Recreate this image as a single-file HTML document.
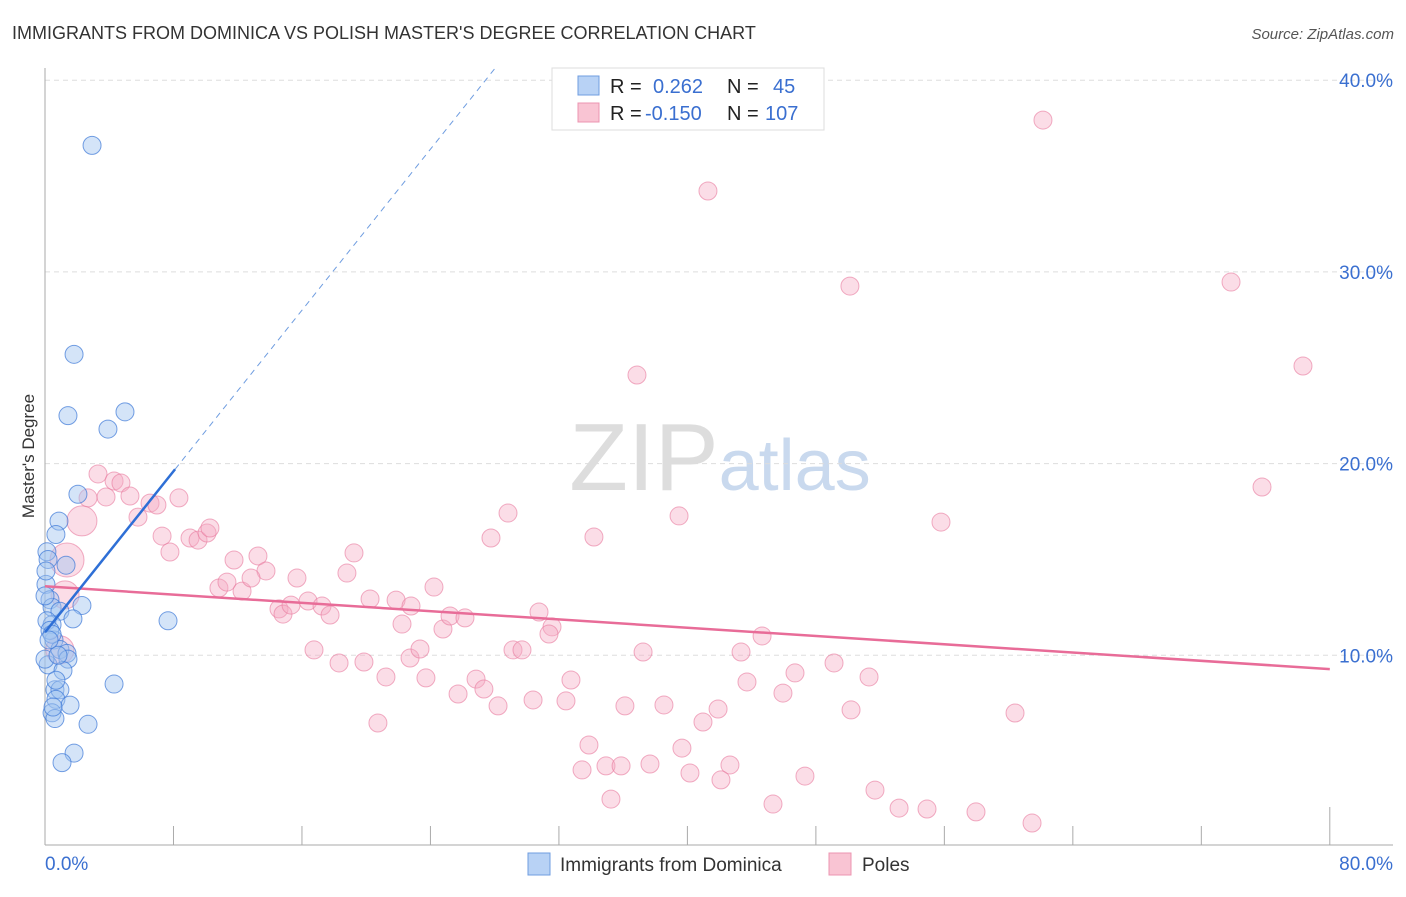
<!DOCTYPE html>
<html><head><meta charset="utf-8"><style>
body{margin:0;background:#fff;font-family:"Liberation Sans",sans-serif}
svg text{font-family:"Liberation Sans",sans-serif}
</style></head><body>
<svg id="chart" width="1406" height="892" xmlns="http://www.w3.org/2000/svg">
<text x="12" y="39" font-size="18" fill="#333">IMMIGRANTS FROM DOMINICA VS POLISH MASTER'S DEGREE CORRELATION CHART</text>
<text x="1394" y="39" font-size="15" fill="#555" text-anchor="end" font-style="italic">Source: ZipAtlas.com</text>
<text x="720" y="490" font-size="96" text-anchor="middle" fill="#ddd" font-family="Liberation Serif,serif">ZIP<tspan fill="#c9d9ee" font-family="Liberation Sans,sans-serif" font-size="72">atlas</tspan></text>
<text transform="translate(34,456) rotate(-90)" font-size="17" fill="#333" text-anchor="middle">Master's Degree</text>
<g id="grid"></g><g id="axes"></g><g id="pinkpts"></g><g id="bluepts"></g><g id="lines"></g>
<g>
<rect x="552" y="68" width="272" height="62" fill="#fff" stroke="#ddd"/>
<rect x="578" y="76" width="21" height="19" fill="#b8d2f5" stroke="#6f9de0"/>
<rect x="578" y="103" width="21" height="19" fill="#f9c4d3" stroke="#ec94b0"/>
<text x="610" y="93" font-size="20" fill="#222">R = <tspan fill="#3a6fd0" x="653">0.262</tspan><tspan x="727" fill="#222">N = </tspan><tspan x="773" fill="#3a6fd0">45</tspan></text>
<text x="610" y="120" font-size="20" fill="#222">R = <tspan fill="#3a6fd0" x="645">-0.150</tspan><tspan x="727" fill="#222">N = </tspan><tspan x="765" fill="#3a6fd0">107</tspan></text>
</g>
<g><rect x="528" y="853" width="22" height="22" fill="#b8d2f5" stroke="#6f9de0"/><text x="560" y="871" font-size="19" fill="#333">Immigrants from Dominica</text></g>
<g><rect x="829" y="853" width="22" height="22" fill="#f9c4d3" stroke="#ec94b0"/><text x="862" y="871" font-size="19" fill="#333">Poles</text></g>
</svg>
<script>
const yTicks=[10,20,30,40];
const xTickLabels=["0.0%","80.0%"];
const blueX=[2.93,1.81,1.43,4.98,3.92,2.05,0.87,0.68,0.12,0.19,1.31,0.06,0.31,0.44,2.30,0.93,1.74,7.66,0.44,0.56,0.93,1.37,1.43,0.19,1.12,4.30,0.62,0.93,0.68,1.56,0.44,0.62,2.68,1.81,1.06,0.0,0.12,0.31,0.44,0.06,0.0,0.81,0.25,0.68,0.5];
const blueY=[36.6,25.7,22.5,22.7,21.8,18.4,17.0,16.3,15.4,15.0,14.7,13.7,12.9,12.5,12.6,12.3,11.9,11.8,11.6,10.8,10.3,10.1,9.8,9.5,9.2,8.5,8.2,8.2,7.7,7.4,7.0,6.7,6.4,4.9,4.4,9.8,11.8,11.3,11.1,14.4,13.1,10.0,10.8,8.7,7.3];
const pinkPx=[[1043,120],[708,191],[850,286],[1231,282],[1303,366],[637,375],[1262,487],[98,474],[114,481],[121,483],[130,496],[106,497],[88,498],[150,503],[157,505],[179,498],[138,517],[82,521],[162,536],[190,538],[198,540],[207,533],[210,528],[170,552],[67,560],[234,560],[258,556],[354,553],[266,571],[508,513],[679,516],[491,538],[594,537],[941,522],[65,595],[219,588],[227,582],[242,591],[251,578],[297,578],[347,573],[434,587],[279,609],[283,614],[291,605],[308,601],[322,606],[330,615],[370,599],[396,600],[411,606],[402,624],[443,629],[450,616],[465,618],[539,612],[552,627],[549,634],[762,636],[60,650],[314,650],[339,663],[364,662],[386,677],[410,658],[420,649],[426,678],[476,679],[484,689],[458,694],[498,706],[513,650],[522,650],[533,700],[566,701],[571,680],[643,652],[741,652],[834,663],[795,673],[869,677],[747,682],[783,693],[625,706],[664,705],[718,709],[703,722],[851,710],[1015,713],[378,723],[589,745],[682,748],[582,770],[606,766],[621,766],[650,764],[730,765],[690,773],[721,780],[805,776],[875,790],[611,799],[773,804],[899,808],[927,809],[976,812],[1032,823]];
const pinkX=pinkPx.map(p=>+((p[0]-45)/16.06).toFixed(2));
const pinkY=pinkPx.map(p=>+((847-p[1])/19.17).toFixed(2));
const pinkBig=[17,24,34,59];
const pinkBigR=[15,17,14,14];
const blueTrend=[11.2,1.05];
const pinkTrend=[13.6,-0.054];
const NS="http://www.w3.org/2000/svg";
function sx(v){return 45+v*16.06;}
function sy(v){return 847-v*19.17;}
function mk(tag,attrs,parent){const e=document.createElementNS(NS,tag);for(const k in attrs)e.setAttribute(k,attrs[k]);document.getElementById(parent).appendChild(e);return e;}
yTicks.forEach(t=>{
 const g=mk('line',{x1:45,x2:1393,y1:sy(t),y2:sy(t),stroke:'#ddd','stroke-dasharray':'5,4'},'grid');
 
 
 const l=mk('text',{x:1393,y:sy(t)+7,'font-size':19,fill:'#3a6fd0','text-anchor':'end'},'grid');
 l.textContent=t.toFixed(1)+'%';
 
 
});
const ax=mk('line',{x1:45,x2:45,y1:68,y2:845,stroke:'#aaa'},'axes');


const bx=mk('line',{x1:45,x2:1393,y1:845,y2:845,stroke:'#aaa'},'axes');


for(let i=1;i<=10;i++){const v=i*8;const t=mk('line',{x1:sx(v),x2:sx(v),y1:i==10?807:826,y2:845,stroke:'#aaa'},'axes');
 
 }
[[0,45,'start'],[80,1393,'end']].forEach((a,i)=>{const t=mk('text',{x:a[1],y:870,'font-size':19,fill:'#3a6fd0','text-anchor':a[2]},'axes');t.textContent=xTickLabels[i];
 
 });
pinkX.forEach((x,i)=>{const bi=pinkBig.indexOf(i);const c=mk('circle',{cx:sx(x),cy:sy(pinkY[i]),r:bi>=0?pinkBigR[bi]:9,fill:'rgba(246,170,194,0.4)',stroke:'rgba(232,120,156,0.6)'},'pinkpts');
 
 });
blueX.forEach((x,i)=>{const c=mk('circle',{cx:sx(x),cy:sy(blueY[i]),r:9,fill:'rgba(160,196,240,0.45)',stroke:'rgba(60,120,215,0.7)'},'bluepts');
 
 });
const pl=mk('line',{x1:sx(0),y1:sy(pinkTrend[0]),x2:sx(80),y2:sy(pinkTrend[0]+pinkTrend[1]*80),stroke:'#e86c98','stroke-width':2.5},'lines');


const bEnd=8.1;const bTop=(40.6-blueTrend[0])/blueTrend[1];
const bl=mk('line',{x1:sx(0),y1:sy(blueTrend[0]),x2:sx(bEnd),y2:sy(blueTrend[0]+blueTrend[1]*bEnd),stroke:'#2e6fd6','stroke-width':2.5},'lines');


const bd=mk('line',{x1:sx(bEnd),y1:sy(blueTrend[0]+blueTrend[1]*bEnd),x2:sx(bTop),y2:sy(40.6),stroke:'#6f9de0','stroke-width':1,'stroke-dasharray':'6,5'},'lines');


</script>
</body></html>
